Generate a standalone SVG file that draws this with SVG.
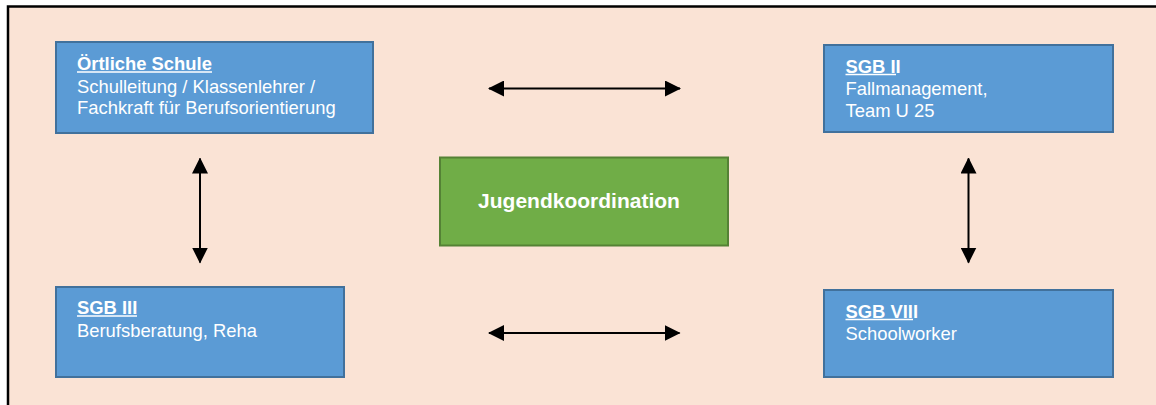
<svg xmlns="http://www.w3.org/2000/svg" width="1156" height="405" viewBox="0 0 1156 405">
  <style>
    .bg { fill: #FAE3D5; }
    .frame { fill: none; stroke: #000000; stroke-width: 2.5; }
    .blue { fill: #5B9BD5; stroke: #41719C; stroke-width: 2; }
    .green { fill: #70AD47; stroke: #548235; stroke-width: 2; }
    .t { font-family: "Liberation Sans", Arial, sans-serif; font-size: 18.4px; fill: #FFFFFF; }
    .b { font-weight: bold; }
    .ul { stroke: #FFFFFF; stroke-width: 1.6; }
    .title { font-family: "Liberation Sans", Arial, sans-serif; font-size: 21px; font-weight: bold; fill: #FFFFFF; }
    .conn { stroke: #000000; stroke-width: 2; fill: none; marker-start: url(#arrow); marker-end: url(#arrow); }
  </style>
  <defs>
    <marker id="arrow" viewBox="0 0 16 16" refX="15" refY="8" markerWidth="16" markerHeight="16" markerUnits="userSpaceOnUse" orient="auto-start-reverse">
      <path d="M0,0 L16,8 L0,16 Z" fill="#000000"/>
    </marker>
  </defs>
  <rect class="bg" x="8" y="6" width="1150" height="402"/>
  <path class="frame" d="M8,410 L8,6.5 L1158,6.5"/>

  <g id="oertliche-schule">
    <rect class="blue" x="56" y="42" width="317" height="91"/>
    <text class="t b" x="77" y="70">Örtliche Schule</text>
    <line class="ul" x1="77" y1="72" x2="212" y2="72"/>
    <text class="t" x="77" y="92.5">Schulleitung / Klassenlehrer /</text>
    <text class="t" x="77" y="113.5">Fachkraft für Berufsorientierung</text>
  </g>

  <g id="sgb-ii">
    <rect class="blue" x="824" y="45" width="289" height="87"/>
    <text class="t b" x="845.5" y="72.5">SGB II</text>
    <line class="ul" x1="845.5" y1="74.5" x2="896" y2="74.5"/>
    <text class="t" x="845.5" y="94.5">Fallmanagement,</text>
    <text class="t" x="845.5" y="116.5">Team U 25</text>
  </g>

  <g id="jugendkoordination">
    <rect class="green" x="440" y="157.5" width="288" height="88"/>
    <text class="title" x="579" y="207.5" text-anchor="middle">Jugendkoordination</text>
  </g>

  <g id="sgb-iii">
    <rect class="blue" x="56" y="287" width="288" height="90"/>
    <text class="t b" x="77" y="314">SGB III</text>
    <line class="ul" x1="77" y1="316" x2="137" y2="316"/>
    <text class="t" x="77" y="336.5">Berufsberatung, Reha</text>
  </g>

  <g id="sgb-viii">
    <rect class="blue" x="824" y="290" width="289" height="87"/>
    <text class="t b" x="845.5" y="317.5">SGB VIII</text>
    <line class="ul" x1="845.5" y1="319.5" x2="913" y2="319.5"/>
    <text class="t" x="845.5" y="340">Schoolworker</text>
  </g>

  <g id="connectors">
    <line class="conn" x1="489" y1="88.5" x2="680" y2="88.5"/>
    <line class="conn" x1="489" y1="333" x2="679.5" y2="333"/>
    <line class="conn" x1="200" y1="158.5" x2="200" y2="262.5"/>
    <line class="conn" x1="968.5" y1="158.5" x2="968.5" y2="262.5"/>
  </g>
</svg>
